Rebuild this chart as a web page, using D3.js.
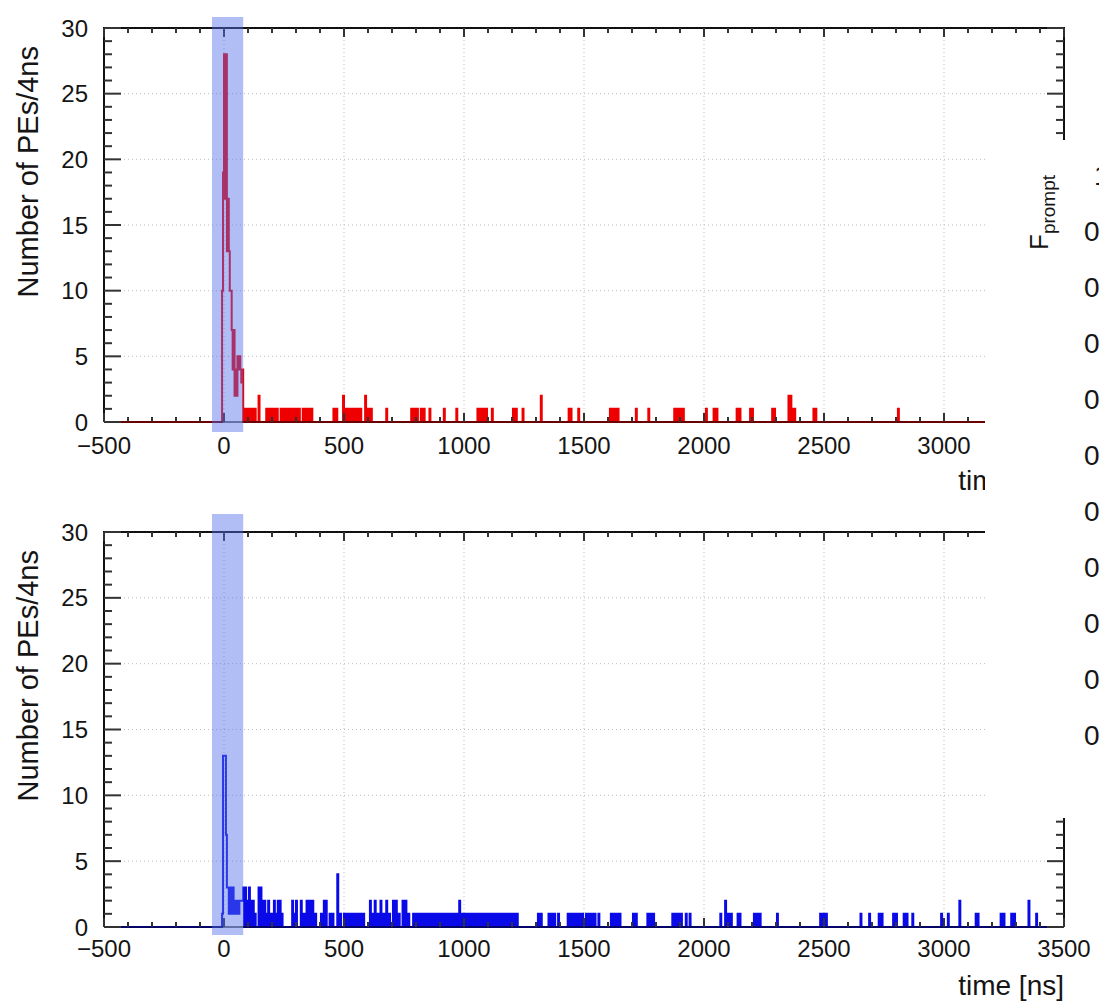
<!DOCTYPE html>
<html><head><meta charset="utf-8">
<script src="https://cdn.jsdelivr.net/npm/d3@7"></script>
<style>
body{margin:0;background:#fff}
svg{display:block}
text{font-family:"Liberation Sans",Arial,Helvetica,sans-serif;fill:#151515}
</style>
</head><body>
<svg id="chart" width="1099" height="1004"></svg>
<script>
// ---------------- data ----------------
const binWidth = 4;                       // ns per bin
const xTickValues = [-500, 0, 500, 1000, 1500, 2000, 2500, 3000, 3500];
const yTickValues = [0, 5, 10, 15, 20, 25, 30];
const promptWindow = [-50, 80];           // highlighted prompt window (ns)

// top (red) event: prompt peak, 4 ns bins starting at -8 ns
const topPeakStart = -8;
const topPeakCounts = [10, 19, 28, 17, 28, 13, 17, 13, 10, 10, 7, 4, 7, 2, 4, 2, 5, 4, 5, 4, 3, 4];
// top (red) event: late light [bin start ns, PEs]
const topTail = [
  [84,1],[92,1],[100,1],[108,1],[120,1],[128,1],[144,2],
  [176,1],[184,1],[196,1],[208,1],[220,1],
  [236,1],[248,1],[260,1],[272,1],[284,1],[292,1],[304,1],[312,1],
  [328,1],[340,1],[352,1],[364,1],
  [456,1],[468,1],[496,2],[508,1],[520,1],[532,1],[544,1],[556,1],[568,1],[588,2],[600,1],[612,1],[676,1],
  [780,1],[792,1],[804,1],[820,1],[832,1],[856,1],[916,1],[968,1],
  [1056,1],[1064,1],[1072,1],[1084,1],[1092,1],[1116,1],[1204,1],[1216,1],[1244,1],[1320,2],
  [1436,1],[1444,1],[1476,1],[1608,1],[1616,1],[1628,1],[1640,1],[1716,1],[1768,1],
  [1876,1],[1888,1],[1900,1],[1912,1],[2008,1],[2040,1],[2052,1],[2136,1],[2148,1],
  [2192,1],[2200,1],[2284,1],[2292,1],[2352,2],[2360,2],[2368,1],[2376,1],[2456,1],[2464,1],[2808,1]
];

// bottom (blue) event: prompt peak, 4 ns bins starting at -8 ns
const bottomPeakStart = -8;
const bottomPeakCounts = [1, 13, 13, 13, 7, 3, 3, 1, 3, 3, 1, 3, 1, 2, 1, 2, 2, 1, 2, 2, 2, 2];
// bottom (blue) event: late light [bin start ns, PEs]
const bottomTail = [
  [80,3],[88,3],[96,2],[104,3],[112,2],[120,2],[128,1],[144,3],[152,3],[160,2],[168,2],[176,1],
  [184,2],[196,1],[208,2],[216,1],[224,2],[232,2],[240,1],[284,2],[292,1],[300,2],[320,2],[332,1],
  [344,2],[356,2],[368,2],[380,1],[404,1],[416,2],[424,2],[440,1],[452,1],[472,4],[484,1],[500,1],
  [512,1],[520,1],[532,1],[544,1],[556,1],[568,1],[580,1],[608,2],[616,1],[628,2],[640,1],[652,2],
  [664,1],[676,2],[688,1],[704,2],[716,2],[728,1],[744,2],[756,2],[768,1],
  [788,1],[800,1],[812,1],[824,1],[836,1],[848,1],[860,1],[872,1],[884,1],[896,1],[908,1],[920,1],
  [932,1],[944,1],[956,1],[968,1],[980,2],[992,1],[1004,1],[1016,1],[1028,1],[1040,1],[1052,1],
  [1064,1],[1076,1],[1088,1],[1100,1],[1112,1],[1124,1],[1136,1],[1148,1],[1160,1],[1172,1],
  [1184,1],[1196,1],[1208,1],[1220,1],
  [1308,1],[1320,1],[1352,1],[1364,1],[1376,1],[1392,1],[1432,1],[1444,1],[1456,1],[1468,1],
  [1480,1],[1492,1],[1508,1],[1520,1],[1532,1],[1544,1],[1560,1],[1612,1],[1624,1],[1636,1],
  [1648,1],[1704,1],[1716,1],[1764,1],[1776,1],[1788,1],[1868,1],[1880,1],[1892,1],[1904,1],
  [1924,1],[1940,1],
  [2068,1],[2088,2],[2100,1],[2112,1],[2140,1],[2148,1],[2208,1],[2216,1],[2224,1],[2232,1],
  [2304,1],[2484,1],[2492,1],[2500,1],[2508,1],[2652,1],[2688,1],[2728,1],[2740,1],[2788,1],
  [2800,1],[2832,1],[2844,1],[2868,1],[2988,1],[3016,1],[3064,2],[3132,1],[3140,1],[3236,1],
  [3248,1],[3280,1],[3292,1],[3352,2],[3384,1]
];

// overlapping neighbouring figure (F_prompt axis, mostly hidden)
const fpromptTicks = [1, 0.9, 0.8, 0.7, 0.6, 0.5, 0.4, 0.3, 0.2, 0.1, 0];
const fpromptTitle = "F";
const fpromptSub = "prompt";

const xTitle = "time [ns]";
const yTitle = "Number of PEs/4ns";

// ---------------- drawing ----------------
const svg = d3.select("#chart");
svg.append("rect").attr("width", 1099).attr("height", 1004).attr("fill", "#fff");

const X0 = 104, X1 = 1064;
const coverX = 985;
const x = d3.scaleLinear().domain([-500, 3500]).range([X0, X1]);

function buildSeries(peakStart, peakCounts, tail) {
  const m = new Map();
  peakCounts.forEach((c, i) => m.set(peakStart + i * binWidth, c));
  tail.forEach(([t, c]) => m.set(t, c));
  const edges = d3.range(-500, 3500 + binWidth, binWidth);
  return edges.map(e => [e, m.get(e) || 0]);
}

const panels = [
  {top: 28, bottom: 422, color: "#ee0000", series: buildSeries(topPeakStart, topPeakCounts, topTail),
   labelY: 454, titleY: 490, bandTop: 17, bandBottom: 432, covered: true},
  {top: 532, bottom: 927, color: "#0a0ae8", series: buildSeries(bottomPeakStart, bottomPeakCounts, bottomTail),
   labelY: 957, titleY: 995, bandTop: 514, bandBottom: 935, covered: false}
];

panels.forEach(p => {
  const g = svg.append("g");
  const y = d3.scaleLinear().domain([0, 30]).range([p.bottom, p.top]);

  // grid
  g.selectAll(".gx").data(xTickValues.filter(v => v > -500 && v < 3500)).join("line")
    .attr("x1", d => x(d)).attr("x2", d => x(d)).attr("y1", p.top).attr("y2", p.bottom)
    .attr("stroke", "#bdbdbd").attr("stroke-width", 1).attr("stroke-dasharray", "1,3");
  g.selectAll(".gy").data(yTickValues.filter(v => v > 0 && v < 30)).join("line")
    .attr("y1", d => y(d)).attr("y2", d => y(d)).attr("x1", X0).attr("x2", X1)
    .attr("stroke", "#bdbdbd").attr("stroke-width", 1).attr("stroke-dasharray", "1,3");

  // histogram
  const line = d3.line().x(d => x(d[0])).y(d => y(d[1])).curve(d3.curveStepAfter);
  g.append("path").datum(p.series).attr("d", line)
    .attr("fill", "none").attr("stroke", p.color).attr("stroke-width", 2).attr("stroke-linejoin", "miter");

  // frame
  g.append("path")
    .attr("d", `M${X0},${p.bottom}V${p.top}H${X1}V${p.bottom}`)
    .attr("fill", "none").attr("stroke", "#111").attr("stroke-width", 2);
  g.append("line").attr("x1", X0).attr("x2", X1).attr("y1", p.bottom).attr("y2", p.bottom)
    .attr("stroke", "#000").attr("stroke-opacity", 0.55).attr("stroke-width", 2);

  // ticks
  const yMinor = d3.range(0, 31, 1);
  const xMinor = d3.range(-500, 3501, 100);
  const yLen = v => (v % 5 === 0 ? 17 : 8);
  const xLen = v => (v % 500 === 0 ? 9 : 5);
  const tk = g.append("g").attr("stroke", "#333").attr("stroke-width", 2);
  tk.selectAll(".yl").data(yMinor).join("line")
    .attr("x1", X0).attr("x2", d => X0 + yLen(d)).attr("y1", d => y(d)).attr("y2", d => y(d));
  tk.selectAll(".yr").data(yMinor).join("line")
    .attr("x1", X1).attr("x2", d => X1 - yLen(d)).attr("y1", d => y(d)).attr("y2", d => y(d));
  tk.selectAll(".xb").data(xMinor).join("line")
    .attr("x1", d => x(d)).attr("x2", d => x(d)).attr("y1", p.bottom).attr("y2", d => p.bottom - xLen(d));
  tk.selectAll(".xt").data(xMinor).join("line")
    .attr("x1", d => x(d)).attr("x2", d => x(d)).attr("y1", p.top).attr("y2", d => p.top + xLen(d));

  // prompt window band
  g.append("rect")
    .attr("x", x(promptWindow[0])).attr("width", x(promptWindow[1]) - x(promptWindow[0]))
    .attr("y", p.bandTop).attr("height", p.bandBottom - p.bandTop)
    .attr("fill", "rgb(80,110,232)").attr("fill-opacity", 0.45);

  // tick labels (labels hidden under the overlapping figure are not drawn)
  g.selectAll(".ylab").data(yTickValues).join("text")
    .attr("x", 88).attr("y", d => y(d)).attr("dy", "0.36em")
    .attr("text-anchor", "end").attr("font-size", 24).text(d => d);
  g.selectAll(".xlab").data(xTickValues.filter(v => !p.covered || x(v) < coverX)).join("text")
    .attr("x", d => x(d)).attr("y", p.labelY)
    .attr("text-anchor", "middle").attr("font-size", 24).text(d => d < 0 ? "\u2212" + Math.abs(d) : d);

  // titles
  g.append("text").attr("transform", `translate(38,${p.top + 18}) rotate(-90)`)
    .attr("text-anchor", "end").attr("font-size", 29).text(yTitle);
  g.append("text").attr("x", X1).attr("y", p.titleY)
    .attr("text-anchor", "end").attr("font-size", 28).text(xTitle);
});

// overlapping neighbouring figure
const cover = svg.append("g");
cover.append("rect").attr("x", coverX).attr("y", 140).attr("width", 1099 - coverX).attr("height", 678).attr("fill", "#fff");
const fy = d3.scaleLinear().domain([0, 1]).range([735, 175]);
cover.selectAll(".fl").data(fpromptTicks).join("text")
  .attr("x", d => d === 1 ? 1094 : 1084).attr("y", d => fy(d)).attr("dy", "0.36em")
  .attr("font-size", 28).text(d => d === 1 ? "1" : d3.format(".1f")(d));
const ft = cover.append("text").attr("transform", "translate(1048,250) rotate(-90)").attr("font-size", 26);
ft.append("tspan").text(fpromptTitle);
ft.append("tspan").attr("font-size", 19).attr("dy", 7).text(fpromptSub);
</script>
</body></html>
